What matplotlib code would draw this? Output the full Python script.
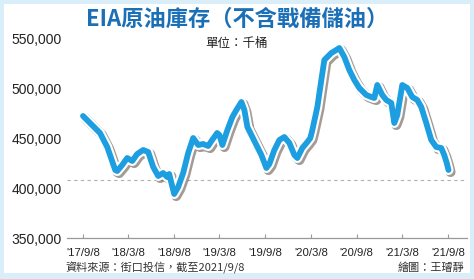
import matplotlib
matplotlib.use("Agg")
import matplotlib.pyplot as plt
import matplotlib.dates as mdates
import matplotlib.patheffects as pe
from datetime import datetime

# weekly-ish readings of US crude inventories excl. SPR (thousand barrels)
dates = [
    "2017-09-08", "2017-10-06", "2017-11-03", "2017-11-15", "2017-12-14",
    "2018-01-15", "2018-01-23", "2018-02-12", "2018-03-04", "2018-03-24",
    "2018-04-13", "2018-05-07", "2018-05-27", "2018-06-16", "2018-07-06",
    "2018-07-26", "2018-08-11", "2018-08-19", "2018-09-08", "2018-09-24",
    "2018-10-14", "2018-11-03", "2018-11-23", "2018-12-13", "2019-01-02",
    "2019-01-22", "2019-02-07", "2019-02-27", "2019-03-08", "2019-03-20",
    "2019-04-09", "2019-04-29", "2019-05-15", "2019-06-04", "2019-06-16",
    "2019-06-28", "2019-07-18", "2019-08-07", "2019-08-23", "2019-09-12",
    "2019-09-24", "2019-10-14", "2019-11-03", "2019-11-23", "2019-12-13",
    "2020-01-02", "2020-01-14", "2020-02-03", "2020-02-23", "2020-03-06",
    "2020-03-14", "2020-04-03", "2020-04-19", "2020-05-01", "2020-05-29",
    "2020-06-18", "2020-06-30", "2020-07-20", "2020-08-09", "2020-08-29",
    "2020-09-18", "2020-10-16", "2020-11-05", "2020-11-17", "2020-11-29",
    "2020-12-19", "2021-01-04", "2021-01-24", "2021-02-05", "2021-02-17",
    "2021-03-09", "2021-03-29", "2021-04-18", "2021-05-08", "2021-05-24",
    "2021-06-13", "2021-07-03", "2021-07-23", "2021-08-12", "2021-08-24",
    "2021-09-03", "2021-09-10",
]
stocks = [
    472, 465, 458, 455, 441,
    418, 417, 423, 430, 427,
    434, 438, 436, 421, 412,
    415, 411, 414, 394, 401,
    415, 435, 450, 443, 444,
    442, 448, 455, 453, 443,
    458, 471, 478, 486, 478,
    461, 451, 441, 433, 420,
    424, 438, 448, 451, 445,
    433, 430, 440, 446, 450,
    458, 481, 508, 528, 535,
    538, 540, 531, 518, 508,
    500, 493, 491, 490, 503,
    493, 488, 485, 465, 473,
    503, 500, 491, 488, 481,
    465, 448, 441, 440, 433,
    425, 418,
]
stocks = [v * 1000 for v in stocks]

tick_dates = ["2017-09-08", "2018-03-08", "2018-09-08", "2019-03-08", "2019-09-08",
              "2020-03-08", "2020-09-08", "2021-03-08", "2021-09-08"]
tick_labels = ["'17/9/8", "'18/3/8", "'18/9/8", "'19/3/8", "'19/9/8",
               "'20/3/8", "'20/9/8", "'21/3/8", "'21/9/8"]
y_ticks = [350000, 400000, 450000, 500000, 550000]
ref_level = 408000

cjk = ["Noto Sans CJK TC", "DejaVu Sans"]
x = [datetime.strptime(d, "%Y-%m-%d") for d in dates]
xt = [datetime.strptime(d, "%Y-%m-%d") for d in tick_dates]

fig = plt.figure(figsize=(4.74, 2.79), dpi=100)
fig.patch.set_facecolor("#d9eef8")
# white card inside the light-blue frame
fig.add_artist(plt.Rectangle((4 / 474, 6 / 279), 466 / 474, 269 / 279,
                             transform=fig.transFigure, facecolor="white",
                             edgecolor="none", zorder=0))

ax = fig.add_axes([67 / 474, 41 / 279, 400 / 474, 200 / 279])
ax.set_facecolor("none")

t0 = mdates.date2num(xt[0])
t1 = mdates.date2num(xt[-1])
per_px = (t1 - t0) / (448 - 83)
ax.set_xlim(t0 - 16 * per_px, t1 + 19 * per_px)
ax.set_ylim(350000, 550000)

ax.axhline(ref_level, color="#b0b0b0", lw=0.8, ls=(0, (3, 3)), zorder=1)

ax.plot(x, stocks, color="#1d9ee0", lw=4.2, solid_capstyle="round",
        solid_joinstyle="round", zorder=3,
        path_effects=[
            pe.SimpleLineShadow(offset=(1.5, -1.5), shadow_color="#5a4a40",
                                alpha=0.55, linewidth=7.2),
            pe.Stroke(linewidth=7.2, foreground="white"),
            pe.Normal(),
        ])

ax.set_xticks(xt)
ax.set_xticklabels(tick_labels, fontsize=8.2, family="Liberation Sans",
                   color="#222222")
ax.set_yticks(y_ticks)
ax.set_yticklabels([f"{v:,}" for v in y_ticks], fontsize=10, family="Liberation Sans",
                   color="#222222")
ax.tick_params(axis="x", direction="in", length=3, color="#999999", pad=7)
ax.tick_params(axis="y", length=0, pad=4)

for s in ["top", "right", "left"]:
    ax.spines[s].set_visible(False)
ax.spines["bottom"].set_color("#999999")
ax.spines["bottom"].set_linewidth(0.9)

fig.text(0.5, 1 - 19 / 279, "EIA原油庫存（不含戰備儲油）", ha="center", va="center",
         fontsize=16, fontweight="bold", color="#1b6fb6", family=cjk)
fig.text(0.5, 1 - 44 / 279, "單位：千桶", ha="center", va="center",
         fontsize=9, color="#222222", family=cjk)
fig.text(65 / 474, 1 - 268 / 279, "資料來源：街口投信，截至2021/9/8", ha="left",
         va="center", fontsize=8, color="#333333", family=cjk)
fig.text(464 / 474, 1 - 268 / 279, "繪圖：王璿靜", ha="right", va="center",
         fontsize=8, color="#333333", family=cjk)

fig.savefig("out.png", dpi=100, facecolor=fig.get_facecolor())
